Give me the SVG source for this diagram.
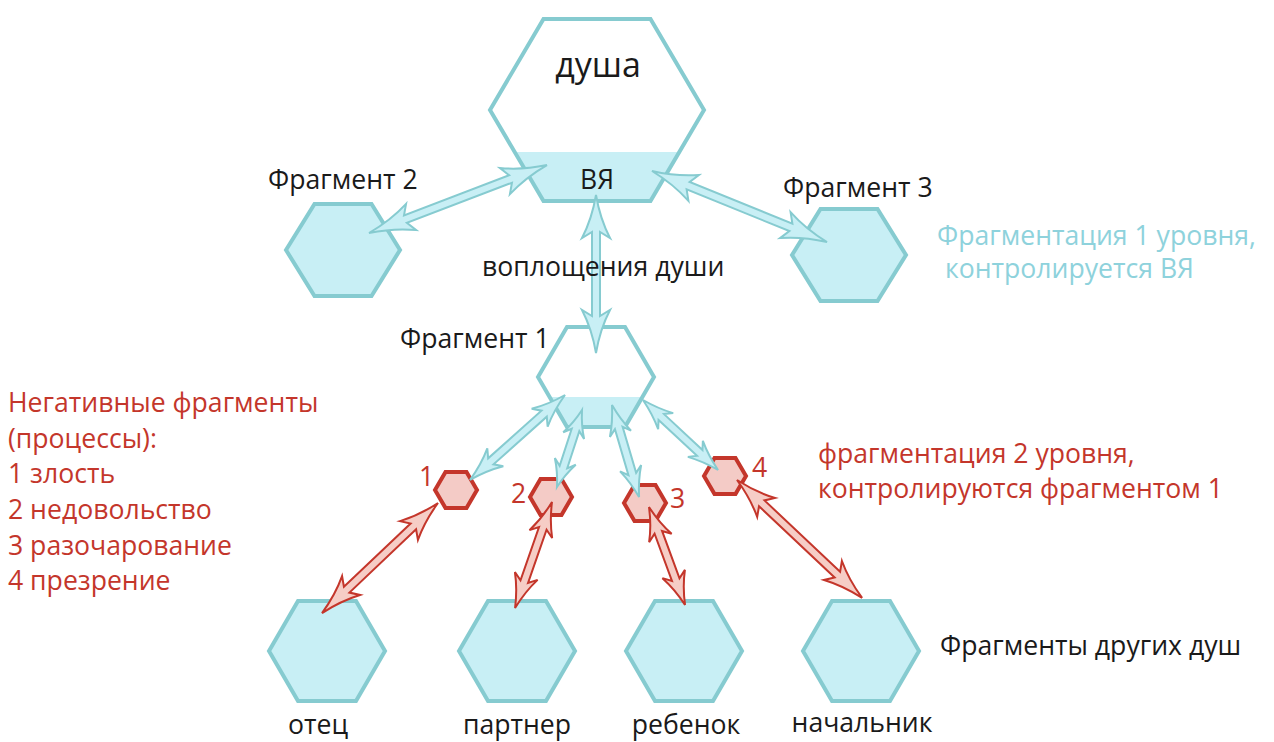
<svg xmlns="http://www.w3.org/2000/svg" width="1274" height="742" viewBox="0 0 1274 742">
<style>
text{font-family:"Open Sans","Noto Sans","Liberation Sans",sans-serif;font-size:26.6px}
.blk{fill:#1a1a1a}
.red{fill:#c4362b}
.lt{fill:#8ed2dc}
.hexB{fill:#c8eff5;stroke:#86cbd0;stroke-width:4;stroke-linejoin:miter}
.hexW{fill:#ffffff;stroke:none}
.band{fill:#c8eff5;stroke:none}
.hexO{fill:none;stroke:#86cbd0;stroke-width:4}
.hexR{fill:#f4cbc6;stroke:#c4362b;stroke-width:4}
.arB{fill:#c8eff5;stroke:#86cbd0;stroke-width:2}
.arR{fill:#f6cdc6;stroke:#c4362b;stroke-width:2}
</style>
<defs>
<path id="hexL" d="M-58,0 L-29,-50 L29,-50 L58,0 L29,50 L-29,50 Z"/>
<path id="hexM" d="M-57,0 L-28.5,-46 L28.5,-46 L57,0 L28.5,46 L-28.5,46 Z"/>
<path id="hexS" d="M-21,0 L-10.5,-18 L10.5,-18 L21,0 L10.5,18 L-10.5,18 Z"/>
</defs>
<rect width="1274" height="742" fill="#ffffff"/>

<g id="soul">
<polygon class="hexW" points="490,110 543.5,19 650.5,19 704,110 650.5,201 543.5,201"/>
<polygon class="band" points="514.7,152 679.3,152 650.5,201 543.5,201"/>
<polygon class="hexO" points="490,110 543.5,19 650.5,19 704,110 650.5,201 543.5,201"/>
<text class="blk" x="598" y="77" text-anchor="middle" style="font-size:34px">душа</text>
<text class="blk" x="597" y="189" text-anchor="middle">ВЯ</text>
</g>

<g id="fragment2">
<use href="#hexM" class="hexB" transform="translate(343,250)"/>
<text class="blk" x="268" y="189">Фрагмент 2</text>
</g>

<g id="fragment3">
<use href="#hexM" class="hexB" transform="translate(849,255)"/>
<text class="blk" x="783" y="197">Фрагмент 3</text>
</g>

<g id="fragment1">
<polygon class="hexW" points="538,377 567,327 625,327 654,377 625,427 567,427"/>
<polygon class="band" points="550,397 642,397 625,427 567,427"/>
<polygon class="hexO" points="538,377 567,327 625,327 654,377 625,427 567,427"/>
<text class="blk" x="400" y="348">Фрагмент 1</text>
</g>

<g id="neg1">
<use href="#hexS" class="hexR" transform="translate(456,490)"/>
<text class="red" x="419" y="486">1</text>
</g>
<g id="neg2">
<use href="#hexS" class="hexR" transform="translate(551,497)"/>
<text class="red" x="511" y="503">2</text>
</g>
<g id="neg3">
<use href="#hexS" class="hexR" transform="translate(645,503)"/>
<text class="red" x="670" y="508">3</text>
</g>
<g id="neg4">
<use href="#hexS" class="hexR" transform="translate(725,476)"/>
<text class="red" x="752" y="477">4</text>
</g>

<g id="father">
<use href="#hexL" class="hexB" transform="translate(327,651)"/>
<text class="blk" x="318" y="734" text-anchor="middle">отец</text>
</g>
<g id="partner">
<use href="#hexL" class="hexB" transform="translate(517,651)"/>
<text class="blk" x="517" y="734" text-anchor="middle">партнер</text>
</g>
<g id="child">
<use href="#hexL" class="hexB" transform="translate(684,651)"/>
<text class="blk" x="686" y="734" text-anchor="middle">ребенок</text>
</g>
<g id="boss">
<use href="#hexL" class="hexB" transform="translate(861,651)"/>
<text class="blk" x="862" y="732" text-anchor="middle">начальник</text>
</g>

<g id="connectors">
<path class="arB" transform="translate(369,233) rotate(-20.9)" d="M0,0 Q24.75,-4 45,-14 L39,-4 L151.5,-4 L145.5,-14 Q165.75,-4 190.5,0 Q165.75,4 145.5,14 L151.5,4 L39,4 L45,14 Q24.75,4 0,0 Z"/>
<path class="arB" transform="translate(652,171) rotate(22.1)" d="M0,0 Q24.75,-4 45,-14 L39,-4 L149.9,-4 L143.9,-14 Q164.15,-4 188.9,0 Q164.15,4 143.9,14 L149.9,4 L39,4 L45,14 Q24.75,4 0,0 Z"/>
<path class="arB" transform="translate(596,195) rotate(90)" d="M0,0 Q23.65,-4 43,-14 L37,-4 L121,-4 L115,-14 Q134.35,-4 158,0 Q134.35,4 115,14 L121,4 L37,4 L43,14 Q23.65,4 0,0 Z"/>
<path class="arB" transform="translate(565,395) rotate(138.2)" d="M0,0 Q18.7,-4 34,-12 L28,-4 L99.5,-4 L93.5,-12 Q108.8,-4 127.5,0 Q108.8,4 93.5,12 L99.5,4 L28,4 L34,12 Q18.7,4 0,0 Z"/>
<path class="arB" transform="translate(582,410) rotate(108)" d="M0,0 Q14.85,-4 27,-11 L21,-4 L60,-4 L54,-11 Q66.15,-4 81,0 Q66.15,4 54,11 L60,4 L21,4 L27,11 Q14.85,4 0,0 Z"/>
<path class="arB" transform="translate(612,405) rotate(73.6)" d="M0,0 Q16.5,-4 30,-11 L24,-4 L71.9,-4 L65.9,-11 Q79.4,-4 95.9,0 Q79.4,4 65.9,11 L71.9,4 L24,4 L30,11 Q16.5,4 0,0 Z"/>
<path class="arB" transform="translate(643,400) rotate(43)" d="M0,0 Q17.05,-4 31,-11 L25,-4 L77.6,-4 L71.6,-11 Q85.55,-4 102.6,0 Q85.55,4 71.6,11 L77.6,4 L25,4 L31,11 Q17.05,4 0,0 Z"/>
<path class="arR" transform="translate(438,503) rotate(136.5)" d="M0,0 Q22,-4 40,-13 L34,-4 L125.9,-4 L119.9,-13 Q137.9,-4 159.9,0 Q137.9,4 119.9,13 L125.9,4 L34,4 L40,13 Q22,4 0,0 Z"/>
<path class="arR" transform="translate(552,502) rotate(109.2)" d="M0,0 Q18.7,-4 34,-12 L28,-4 L84.3,-4 L78.3,-12 Q93.6,-4 112.3,0 Q93.6,4 78.3,12 L84.3,4 L28,4 L34,12 Q18.7,4 0,0 Z"/>
<path class="arR" transform="translate(649,507) rotate(69.8)" d="M0,0 Q18.15,-4 33,-12 L27,-4 L77.4,-4 L71.4,-12 Q86.25,-4 104.4,0 Q86.25,4 71.4,12 L77.4,4 L27,4 L33,12 Q18.15,4 0,0 Z"/>
<path class="arR" transform="translate(737,480) rotate(43.3)" d="M0,0 Q22,-4 40,-13 L34,-4 L137.9,-4 L131.9,-13 Q149.9,-4 171.9,0 Q149.9,4 131.9,13 L137.9,4 L34,4 L40,13 Q22,4 0,0 Z"/>
</g>

<g id="labels">
<text class="blk" x="482" y="276">воплощения души</text>
<text class="lt" x="937" y="245">Фрагментация 1 уровня,</text>
<text class="lt" x="945" y="278">контролируется ВЯ</text>
<text class="red" x="818" y="463">фрагментация 2 уровня,</text>
<text class="red" x="818" y="498">контролируются фрагментом 1</text>
<text class="red" x="8" y="412">Негативные фрагменты</text>
<text class="red" x="8" y="447.5">(процессы):</text>
<text class="red" x="8" y="483">1 злость</text>
<text class="red" x="8" y="519">2 недовольство</text>
<text class="red" x="8" y="554.5">3 разочарование</text>
<text class="red" x="8" y="590">4 презрение</text>
<text class="blk" x="940" y="655">Фрагменты других душ</text>
</g>
</svg>
